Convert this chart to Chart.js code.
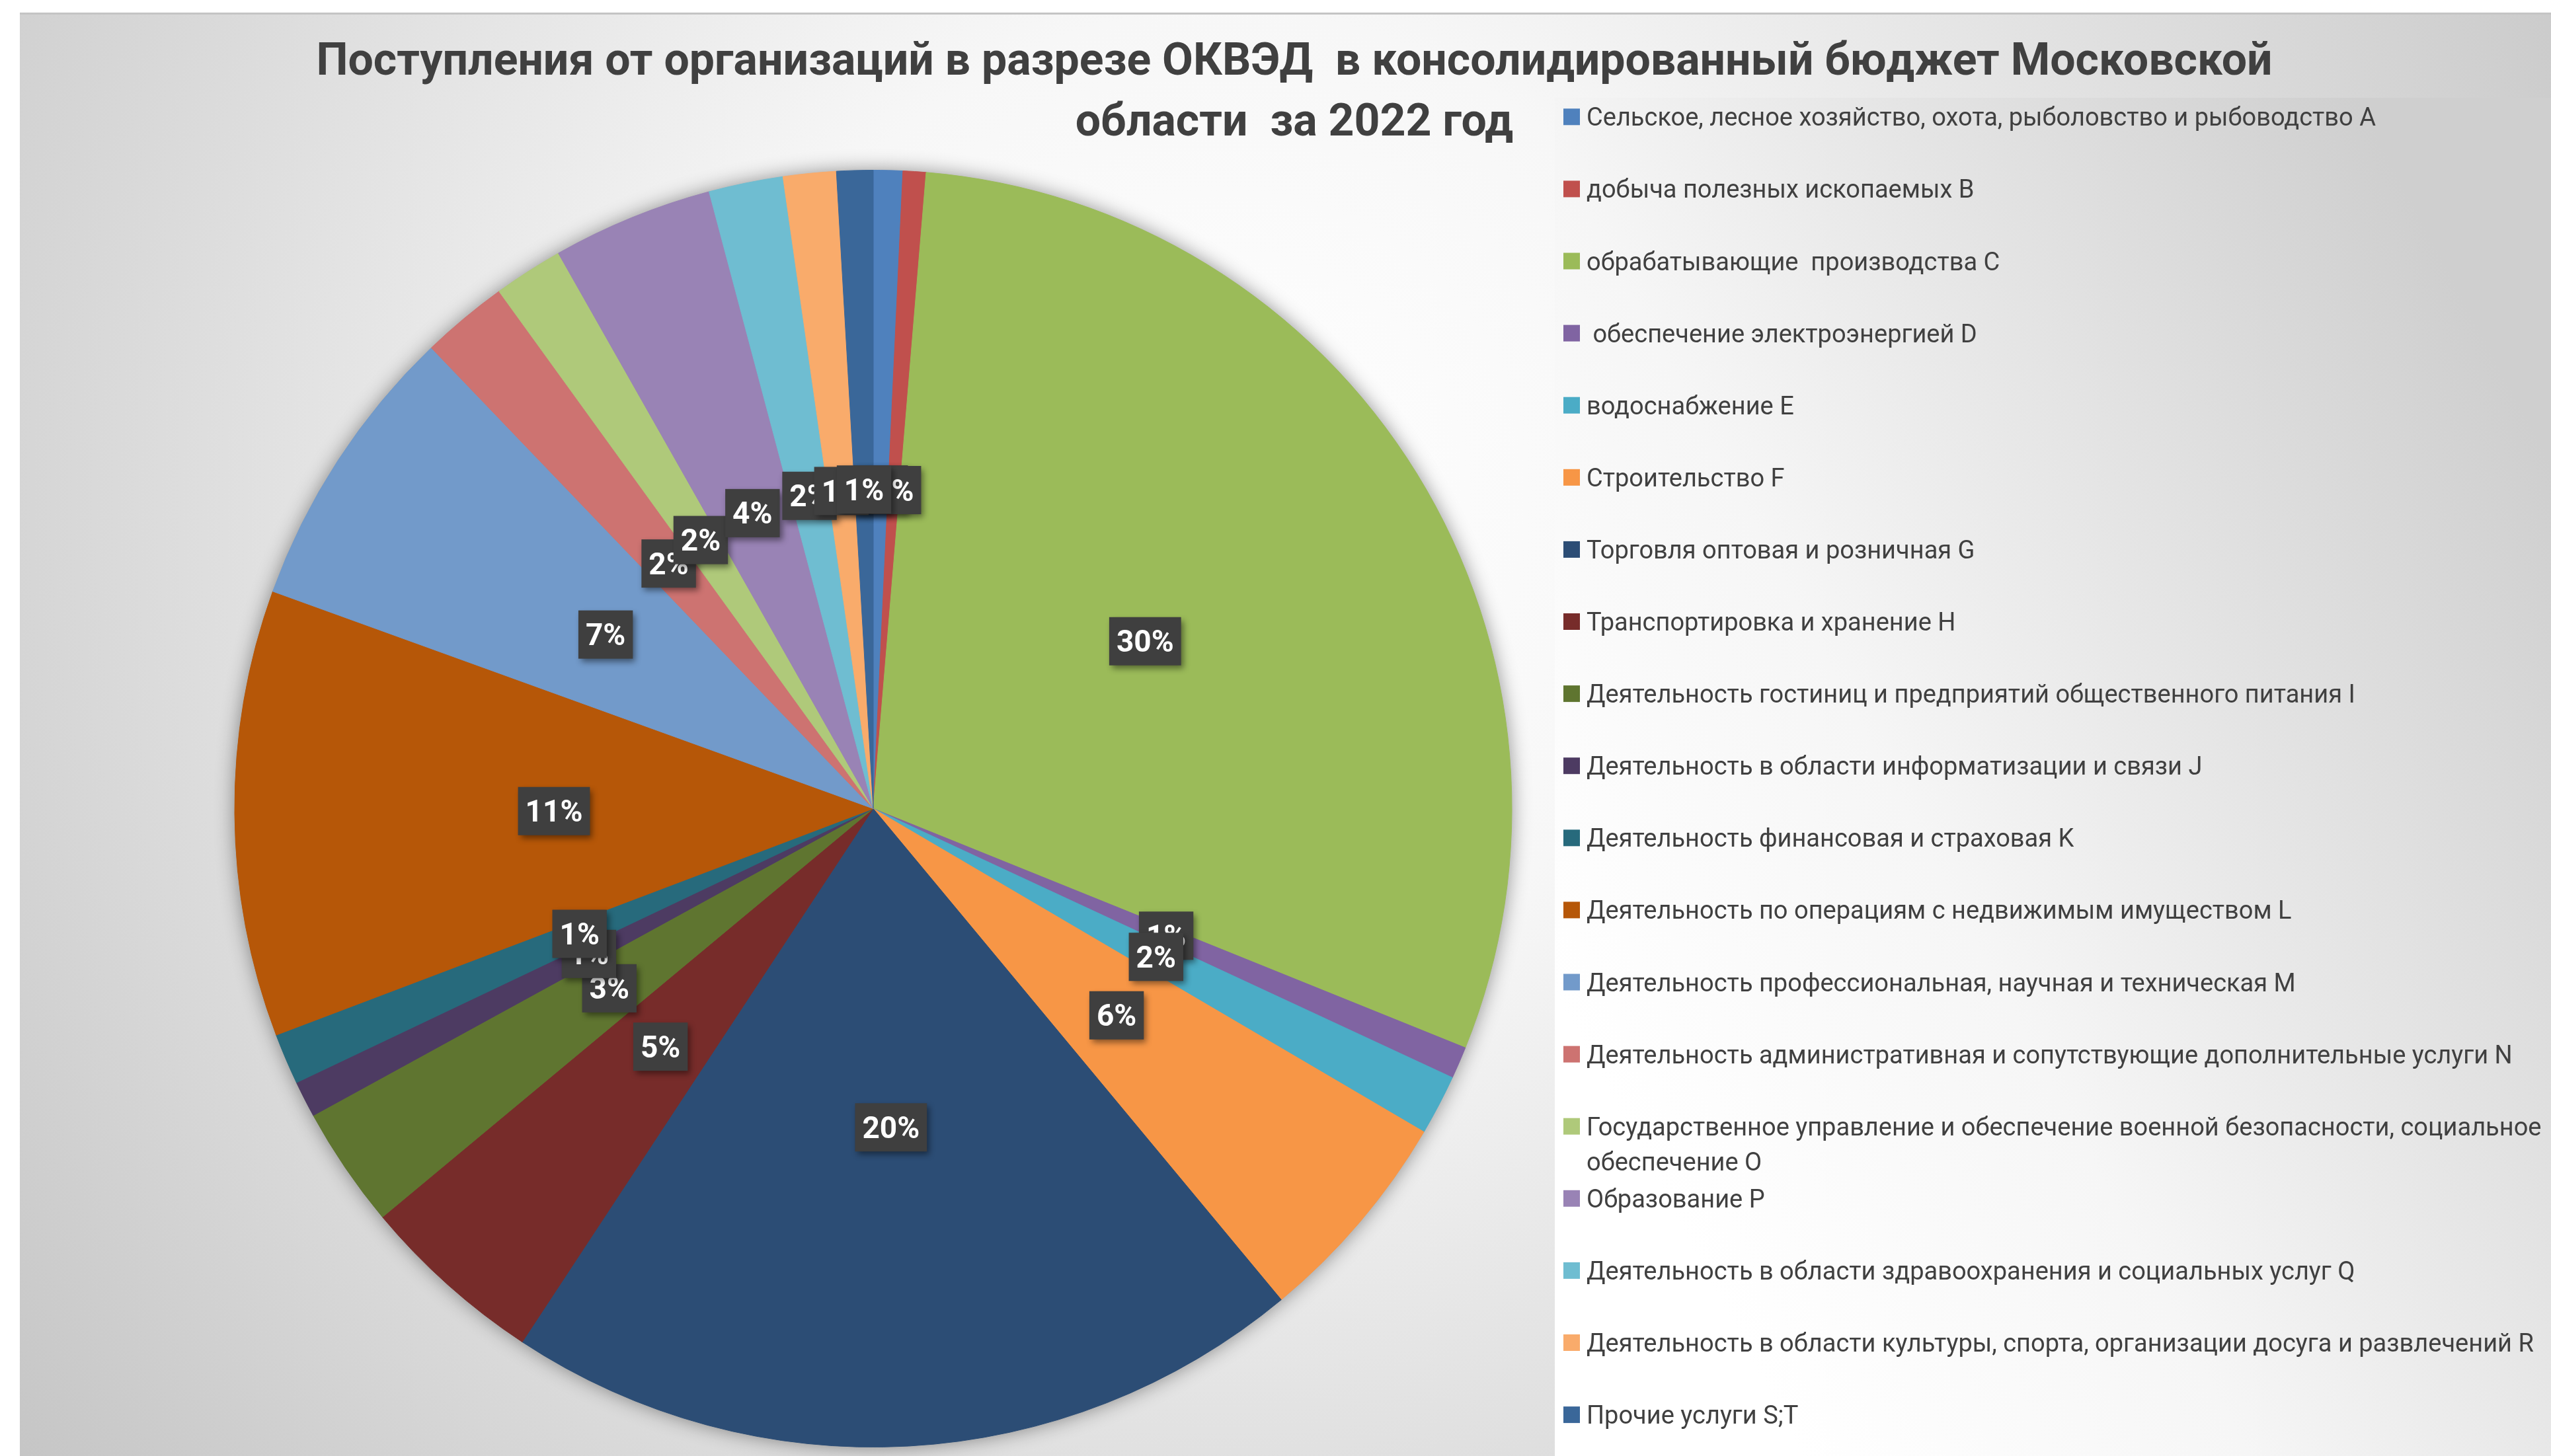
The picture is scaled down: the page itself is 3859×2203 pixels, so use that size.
<!DOCTYPE html>
<html>
<head>
<meta charset="utf-8">
<script src="https://cdn.jsdelivr.net/npm/chart.js@4.4.1/dist/chart.umd.min.js"></script>
<style>
html,body{margin:0;padding:0;background:#ffffff;overflow:hidden}
#wrap{position:relative;width:3859px;height:2203px}
</style>
</head>
<body>
<div id="wrap"><canvas id="c"></canvas></div>
<script>
// ---- data ----
const titleLines = [
  'Поступления от организаций в разрезе ОКВЭД  в консолидированный бюджет Московской',
  'области  за 2022 год'
];
const categories = [
  'Сельское, лесное хозяйство, охота, рыболовство и рыбоводство A',
  'добыча полезных ископаемых B',
  'обрабатывающие  производства C',
  ' обеспечение электроэнергией D',
  'водоснабжение E',
  'Строительство F',
  'Торговля оптовая и розничная G',
  'Транспортировка и хранение H',
  'Деятельность гостиниц и предприятий общественного питания I',
  'Деятельность в области информатизации и связи J',
  'Деятельность финансовая и страховая K',
  'Деятельность по операциям с недвижимым имуществом L',
  'Деятельность профессиональная, научная и техническая M',
  'Деятельность административная и сопутствующие дополнительные услуги N',
  ['Государственное управление и обеспечение военной безопасности, социальное', 'обеспечение O'],
  'Образование P',
  'Деятельность в области здравоохранения и социальных услуг Q',
  'Деятельность в области культуры, спорта, организации досуга и развлечений R',
  'Прочие услуги S;T'
];
// shares of receipts, %
const shares = [0.74, 0.58, 29.80, 0.81, 1.53, 5.52, 20.30, 4.69, 3.07, 0.92, 1.29, 11.30, 7.31, 2.20, 1.76, 4.07, 1.88, 1.34, 0.92];
const sliceColors = [
  '#4F81BD', '#C0504D', '#9BBB59', '#8064A2', '#4BACC6', '#F79646',
  '#2C4D75', '#772C2A', '#5F7530', '#4D3B62', '#276A7C', '#B65708',
  '#729ACA', '#CD7371', '#AFC97A', '#9983B5', '#6FBDD1', '#F9AB6B', '#3A6799'
];

// ---- plugins ----
const backgroundPlugin = {
  id: 'bg',
  beforeDraw(chart) {
    const ctx = chart.ctx;
    const W = chart.width, H = chart.height;
    ctx.save();
    ctx.fillStyle = '#ffffff';
    ctx.fillRect(0, 0, W, H);
    const g = ctx.createRadialGradient(1850, 750, 0, 1850, 750, 2450);
    g.addColorStop(0, '#ffffff');
    g.addColorStop(0.3, '#f7f7f7');
    g.addColorStop(1, '#c2c2c2');
    ctx.fillStyle = g;
    ctx.fillRect(30, 20, W - 30, H - 20);
    // legend panel
    const lg = ctx.createLinearGradient(2352, 1500, 3859, 700);
    lg.addColorStop(0, '#ffffff');
    lg.addColorStop(0.35, '#f6f6f6');
    lg.addColorStop(1, '#cfcfcf');
    ctx.fillStyle = lg;
    ctx.fillRect(2352, 148, W - 2352, H - 148);
    // top edge line
    ctx.fillStyle = '#c4c4c4';
    ctx.fillRect(30, 19, W - 30, 3);
    ctx.restore();
  }
};

const pieShadowPlugin = {
  id: 'pieShadow',
  beforeDatasetsDraw(chart) {
    const arc = chart.getDatasetMeta(0).data[0];
    if (!arc) return;
    const ctx = chart.ctx;
    ctx.save();
    ctx.shadowColor = 'rgba(0,0,0,0.45)';
    ctx.shadowBlur = 30;
    ctx.fillStyle = '#888888';
    ctx.beginPath();
    ctx.arc(arc.x, arc.y, arc.outerRadius - 1, 0, Math.PI * 2);
    ctx.fill();
    ctx.restore();
  }
};

const sliceLabelPlugin = {
  id: 'sliceLabels',
  afterDatasetsDraw(chart) {
    const ctx = chart.ctx;
    const ds = chart.data.datasets[0];
    const meta = chart.getDatasetMeta(0);
    const total = ds.data.reduce((a, b) => a + b, 0);
    ctx.save();
    ctx.font = 'bold 46px Roboto';
    ctx.textAlign = 'center';
    ctx.textBaseline = 'alphabetic';
    meta.data.forEach((arc, i) => {
      const p = arc.tooltipPosition();
      const txt = Math.round(ds.data[i] / total * 100) + '%';
      const w = ctx.measureText(txt).width + 22;
      const h = 73;
      ctx.save();
      ctx.shadowColor = 'rgba(0,0,0,0.45)';
      ctx.shadowBlur = 9;
      ctx.shadowOffsetX = 4;
      ctx.shadowOffsetY = 5;
      ctx.fillStyle = '#3f3f3f';
      ctx.fillRect(p.x - w / 2, p.y - h / 2, w, h);
      ctx.restore();
      ctx.fillStyle = '#ffffff';
      ctx.fillText(txt, p.x, p.y + 16);
    });
    ctx.restore();
  }
};

const titleLegendPlugin = {
  id: 'titleLegend',
  afterDraw(chart) {
    const ctx = chart.ctx;
    ctx.save();
    // title
    ctx.fillStyle = '#404040';
    ctx.font = 'bold 68px Roboto';
    ctx.textAlign = 'center';
    ctx.textBaseline = 'alphabetic';
    ctx.fillText(titleLines[0], 1958, 113);
    ctx.fillText(titleLines[1], 1958, 205);
    // legend
    const labels = chart.data.labels;
    const colors = chart.data.datasets[0].backgroundColor;
    ctx.font = '38px Roboto';
    ctx.textAlign = 'left';
    labels.forEach((lab, i) => {
      const y = 176.8 + i * 109.1;
      ctx.fillStyle = colors[i];
      ctx.fillRect(2365, y - 12.5, 25, 25);
      ctx.fillStyle = '#404040';
      const lines = Array.isArray(lab) ? lab : [lab];
      lines.forEach((ln, j) => ctx.fillText(ln, 2400, y + 13.5 + j * 53));
    });
    ctx.restore();
  }
};

new Chart(document.getElementById('c'), {
  type: 'pie',
  data: {
    labels: categories,
    datasets: [{
      data: shares,
      backgroundColor: sliceColors,
      borderColor: sliceColors,
      borderWidth: 1,
      radius: 966
    }]
  },
  options: {
    responsive: true,
    maintainAspectRatio: false,
    animation: false,
    layout: { padding: { left: 354, right: 1571, top: 254, bottom: 10 } },
    plugins: {
      legend: { display: false },
      title: { display: false },
      tooltip: { enabled: false }
    }
  },
  plugins: [backgroundPlugin, pieShadowPlugin, sliceLabelPlugin, titleLegendPlugin]
});
</script>
</body>
</html>
